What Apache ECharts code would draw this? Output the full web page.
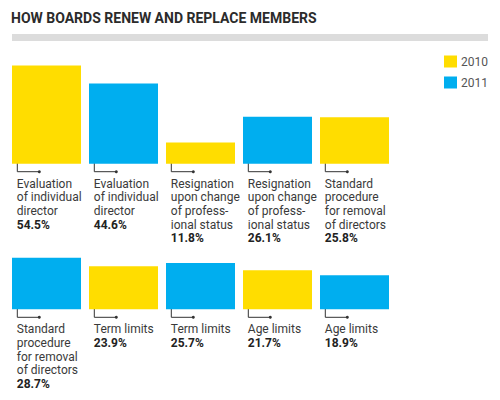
<!DOCTYPE html>
<html>
<head>
<meta charset="utf-8">
<script src="https://cdn.jsdelivr.net/npm/echarts@6/dist/echarts.min.js"></script>
<style>html,body{margin:0;padding:0;background:#fff}#c{width:500px;height:400px}</style>
</head>
<body>
<div id="c"></div>
<script>
// ---- data ----
const titleText = 'HOW BOARDS RENEW AND REPLACE MEMBERS';
const yearList = ['2010', '2011'];
const labels = [
  'Evaluation\nof individual\ndirector',
  'Evaluation\nof individual\ndirector',
  'Resignation\nupon change\nof profess-\nional status',
  'Resignation\nupon change\nof profess-\nional status',
  'Standard\nprocedure\nfor removal\nof directors',
  'Standard\nprocedure\nfor removal\nof directors',
  'Term limits',
  'Term limits',
  'Age limits',
  'Age limits'
];
const values = [54.5, 44.6, 11.8, 26.1, 25.8, 28.7, 23.9, 25.7, 21.7, 18.9];
const years = ['2010', '2011', '2010', '2011', '2010', '2011', '2010', '2011', '2010', '2011'];

// ---- style ----
const yearColors = { '2010': '#FFDD00', '2011': '#00AEEF' };
const FONT = 'Roboto, "Liberation Sans", sans-serif';
const perRow = 5;
const rows = [0, 1];
const rowTops = [55.7, 201.3];

const chart = echarts.init(document.getElementById('c'), null, { renderer: 'svg' });

const grids = rows.map(r => ({ left: 8, width: 385, top: rowTops[r], height: 108 }));
const xAxes = rows.map(r => ({
  type: 'category', gridIndex: r, show: false,
  data: labels.slice(r * perRow, r * perRow + perRow)
}));
const yAxes = rows.map(r => ({ type: 'value', gridIndex: r, show: false, min: 0, max: 60 }));

const series = [];
rows.forEach(r => {
  yearList.forEach(y => {
    series.push({
      type: 'bar', name: y, xAxisIndex: r, yAxisIndex: r, stack: 'row' + r,
      barWidth: 69, itemStyle: { color: yearColors[y] }, silent: true,
      data: values.slice(r * perRow, r * perRow + perRow).map((v, i) => years[r * perRow + i] === y ? v : '-')
    });
  });
  series.push({
    type: 'custom', xAxisIndex: r, yAxisIndex: r, silent: true, clip: false,
    data: values.slice(r * perRow, r * perRow + perRow).map((v, i) => [i, v]),
    encode: { x: 0, y: 1 },
    renderItem: function (params, api) {
      const i = api.value(0);
      const v = api.value(1);
      const p = api.coord([i, 0]);
      const x0 = p[0] - 29.2;
      const b = p[1];
      const lab = labels[r * perRow + i];
      const txt = lab.split('\n').map(l => '{n|' + l + '}').join('\n') + '\n{v|' + v.toFixed(1) + '%}';
      return {
        type: 'group',
        children: [
          { type: 'polyline', shape: { points: [[x0, b - 6], [x0, b + 8], [x0 + 22, b + 8]] },
            style: { stroke: '#333', lineWidth: 1, fill: null } },
          { type: 'circle', shape: { cx: x0, cy: b - 6, r: 1.5 }, style: { fill: '#333' } },
          { type: 'circle', shape: { cx: x0 + 22, cy: b + 8, r: 1.5 }, style: { fill: '#333' } },
          { type: 'text', x: x0 - 0.5, y: b + 13,
            style: {
              text: txt, align: 'left', verticalAlign: 'top',
              rich: {
                n: { fontFamily: FONT, fontSize: 12, lineHeight: 13.7, fill: '#3a3a3a' },
                v: { fontFamily: FONT, fontSize: 12, fontWeight: 'bold', lineHeight: 13.7, fill: '#222' }
              }
            } }
        ]
      };
    }
  });
});

chart.setOption({
  animation: false,
  title: {
    text: titleText, left: 11, top: 11, padding: 0,
    textStyle: { fontFamily: FONT, fontSize: 14, fontWeight: 'bold', color: '#2b2b2b' }
  },
  graphic: [{ type: 'rect', shape: { x: 12, y: 34, width: 476, height: 7 }, style: { fill: '#dcdcdc' }, silent: true }],
  legend: {
    data: yearList, orient: 'vertical', left: 444, top: 55.5, padding: 0,
    itemWidth: 13, itemHeight: 12, itemGap: 9, icon: 'rect', selectedMode: false,
    textStyle: { fontFamily: FONT, fontSize: 12, color: '#555', padding: [0, 0, 0, -1] }
  },
  grid: grids, xAxis: xAxes, yAxis: yAxes, series: series
});
</script>
</body>
</html>
